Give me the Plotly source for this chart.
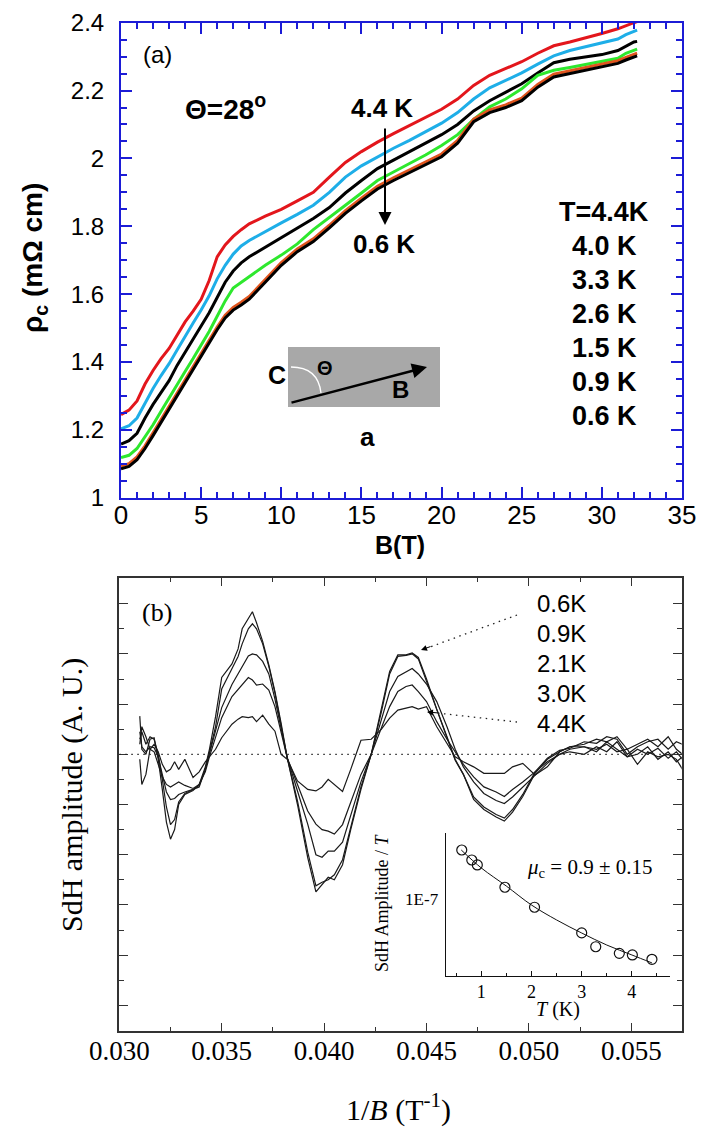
import plotly.graph_objects as go

W, H = 701, 1130
def px(x): return x / W
def py(y): return 1 - y / H

# ---------------- Panel (a) data ----------------
B_field = [0, 0.5, 1, 1.5, 2, 2.5, 3, 3.5, 4, 4.5, 5, 5.5, 6, 6.5, 7, 7.5, 8, 9, 10, 11, 12, 13, 14, 15,
           16, 17, 18, 19, 20, 21, 22, 23, 24, 25, 26, 27, 28, 29, 30, 31, 31.5, 32, 32.2]
rho_44 = [1.245, 1.258, 1.285, 1.335, 1.375, 1.41, 1.44, 1.48, 1.518, 1.55,
          1.585, 1.64, 1.71, 1.745, 1.77, 1.79, 1.807,
          1.83, 1.85, 1.875, 1.90, 1.945, 1.988, 2.02, 2.048, 2.073, 2.097, 2.12, 2.145,
          2.175, 2.215, 2.245, 2.265, 2.285, 2.31, 2.332, 2.343, 2.355, 2.368,
          2.382, 2.392, 2.40, 2.403]
rho_40 = [1.203, 1.212, 1.235, 1.28, 1.322, 1.36, 1.395, 1.435, 1.477, 1.515,
          1.553, 1.595, 1.645, 1.685, 1.718, 1.742, 1.758,
          1.785, 1.81, 1.835, 1.862, 1.90, 1.945, 1.978, 2.005, 2.03, 2.053, 2.078, 2.104,
          2.135, 2.175, 2.208, 2.23, 2.252, 2.278, 2.302, 2.318, 2.33, 2.34,
          2.352, 2.365, 2.375, 2.378]
rho_33 = [1.158, 1.168, 1.19, 1.235, 1.275, 1.31, 1.345, 1.39, 1.428, 1.465,
          1.505, 1.545, 1.59, 1.635, 1.668, 1.692, 1.71,
          1.738, 1.765, 1.793, 1.823, 1.855, 1.898, 1.935, 1.97, 1.995, 2.02, 2.045, 2.07,
          2.10, 2.14, 2.17, 2.195, 2.22, 2.252, 2.282, 2.292, 2.30, 2.306,
          2.318, 2.33, 2.343, 2.345]
rho_26 = [1.118, 1.125, 1.145, 1.18, 1.215, 1.255, 1.295, 1.335, 1.372, 1.41,
          1.448, 1.49, 1.535, 1.58, 1.618, 1.635, 1.65,
          1.685, 1.715, 1.748, 1.79, 1.825, 1.862, 1.898, 1.935, 1.96, 1.985, 2.01, 2.038,
          2.07, 2.115, 2.152, 2.175, 2.205, 2.245, 2.26, 2.268, 2.277, 2.285,
          2.295, 2.31, 2.32, 2.322]
rho_09 = [1.093, 1.10, 1.12, 1.153, 1.191, 1.23, 1.27, 1.31, 1.348, 1.386,
          1.423, 1.463, 1.503, 1.538, 1.561, 1.576, 1.593,
          1.643, 1.693, 1.733, 1.763, 1.803, 1.846, 1.883, 1.918, 1.943, 1.966, 1.988, 2.013,
          2.053, 2.116, 2.143, 2.158, 2.178, 2.218, 2.248, 2.258, 2.266, 2.276,
          2.288, 2.298, 2.308, 2.31]
rho_06 = [1.085, 1.092, 1.112, 1.145, 1.183, 1.222, 1.262, 1.302, 1.34, 1.378,
          1.415, 1.455, 1.495, 1.53, 1.553, 1.568, 1.585,
          1.635, 1.685, 1.725, 1.755, 1.795, 1.838, 1.875, 1.91, 1.935, 1.958, 1.98, 2.005,
          2.045, 2.108, 2.135, 2.15, 2.17, 2.21, 2.24, 2.25, 2.258, 2.268,
          2.28, 2.29, 2.30, 2.302]
curves_a = [(rho_44, "#e3161c"), (rho_40, "#1eaee8"), (rho_33, "#000000"),
            (rho_26, "#2ee82e"), (rho_09, "#e0551e"), (rho_06, "#000000")]
temp_labels_a = ["T=4.4K", "4.0 K", "3.3 K", "2.6 K", "1.5 K", "0.9 K", "0.6 K"]
xticks_a = [0, 5, 10, 15, 20, 25, 30, 35]
yticks_a = [1, 1.2, 1.4, 1.6, 1.8, 2, 2.2, 2.4]

# ---------------- Panel (b) data ----------------
inv_B = [0.0310, 0.0311, 0.0313, 0.0315, 0.0317, 0.0319, 0.0321, 0.0323, 0.0325, 0.0327,
         0.0329, 0.0332, 0.0336, 0.0339, 0.0342, 0.0344, 0.0347, 0.0350, 0.0355, 0.0358,
         0.0360, 0.0363, 0.0365, 0.0367, 0.0370, 0.0373, 0.0376, 0.0379, 0.0382, 0.0387,
         0.0392, 0.0396, 0.0399, 0.0402, 0.0405, 0.0409, 0.0413, 0.0418, 0.0423, 0.0428,
         0.0432, 0.0436, 0.0440, 0.0443, 0.0446, 0.0450, 0.0455, 0.0460, 0.0464, 0.0468,
         0.0473, 0.0478, 0.0484, 0.0488, 0.0492, 0.0497, 0.0503, 0.0509, 0.0515, 0.0520,
         0.0527, 0.0533, 0.0538, 0.0543, 0.0548, 0.0553, 0.0558, 0.0563, 0.0568, 0.0572,
         0.0575]
sdh_06 = [0.76, 0.10, 0.00, 0.30, 0.33, -0.10, -0.70, -1.35, -1.69, -1.50,
          -1.00, -0.80, -0.72, -0.60, -0.25, 0.10, 0.75, 1.53, 1.80, 2.10,
          2.50, 2.72, 2.84, 2.62, 2.25, 1.78, 1.25, 0.62, -0.07, -1.00,
          -2.06, -2.74, -2.60, -2.45, -2.50, -2.20, -1.50, -0.70, 0.00, 0.90,
          1.65, 1.98, 1.98, 2.02, 1.93, 1.50, 0.90, 0.35, -0.10, -0.40,
          -0.90, -1.10, -1.25, -1.33, -1.15, -0.84, -0.38, -0.10, 0.05, 0.15,
          0.20, 0.30, 0.25, 0.35, 0.10, 0.20, 0.30, 0.15, 0.35, 0.10,
          0.00]
sdh_09 = [0.30, 0.45, 0.20, 0.35, 0.30, 0.00, -0.50, -1.05, -1.40, -1.30,
          -0.95, -0.78, -0.70, -0.62, -0.30, 0.05, 0.55, 1.30, 1.70, 1.95,
          2.20, 2.50, 2.60, 2.50, 2.20, 1.75, 1.22, 0.60, -0.07, -0.93,
          -1.95, -2.62, -2.55, -2.50, -2.40, -2.10, -1.45, -0.65, 0.00, 0.85,
          1.60, 1.95, 1.97, 2.00, 1.90, 1.45, 0.85, 0.30, -0.12, -0.40,
          -0.85, -1.05, -1.20, -1.27, -1.10, -0.80, -0.35, -0.08, 0.08, 0.12,
          0.25, 0.22, 0.35, 0.30, 0.00, 0.15, 0.25, 0.30, 0.10, 0.25,
          0.20]
sdh_21 = [0.45, 0.15, 0.05, 0.15, 0.13, -0.05, -0.40, -0.75, -0.90, -0.88,
          -0.80, -0.75, -0.70, -0.65, -0.30, 0.00, 0.45, 0.93, 1.39, 1.60,
          1.75, 1.96, 2.00, 1.98, 1.85, 1.60, 1.10, 0.50, -0.07, -0.73,
          -1.39, -2.00, -2.05, -1.93, -1.93, -1.75, -1.20, -0.55, 0.00, 0.70,
          1.25, 1.55, 1.65, 1.71, 1.60, 1.40, 1.05, 0.55, 0.10, -0.25,
          -0.55, -0.78, -0.92, -0.98, -0.85, -0.65, -0.40, -0.18, 0.00, 0.10,
          0.15, 0.05, 0.25, 0.10, -0.05, 0.10, 0.00, 0.12, -0.08, 0.05,
          -0.10]
sdh_30 = [0.20, 0.55, 0.35, 0.10, 0.05, -0.20, -0.45, -0.60, -0.65, -0.60,
          -0.55, -0.62, -0.68, -0.60, -0.35, -0.05, 0.35, 0.73, 1.15, 1.30,
          1.40, 1.53, 1.48, 1.38, 1.40, 1.28, 0.95, 0.45, -0.07, -0.60,
          -1.13, -1.39, -1.50, -1.53, -1.59, -1.40, -0.95, -0.40, 0.00, 0.55,
          0.95, 1.25, 1.35, 1.38, 1.25, 1.05, 0.65, 0.30, 0.05, -0.20,
          -0.45, -0.65, -0.75, -0.84, -0.70, -0.55, -0.35, -0.15, 0.00, 0.05,
          0.00, 0.15, 0.05, 0.25, -0.05, 0.00, 0.15, -0.10, 0.05, -0.15,
          -0.05]
sdh_44 = [-0.10, -0.60, -0.40, 0.10, 0.20, 0.05, -0.20, -0.35, -0.30, -0.15,
          -0.30, -0.10, -0.46, -0.35, -0.15, -0.05, 0.10, 0.33, 0.60, 0.70,
          0.75, 0.73, 0.75, 0.65, 0.78, 0.60, 0.46, 0.00, -0.10, -0.53,
          -0.70, -0.73, -0.65, -0.50, -0.60, -0.74, -0.30, 0.28, 0.30, 0.50,
          0.72, 0.88, 0.92, 0.95, 0.90, 0.95, 0.55, 0.22, -0.05, -0.15,
          -0.25, -0.38, -0.38, -0.38, -0.25, -0.18, -0.41, -0.25, 0.05, 0.15,
          0.15, 0.10, 0.20, 0.05, 0.10, -0.20, 0.05, -0.05, 0.00, -0.10,
          -0.30]
curves_b = [sdh_06, sdh_09, sdh_21, sdh_30, sdh_44]
temp_labels_b = ["0.6K", "0.9K", "2.1K", "3.0K", "4.4K"]
xticks_b = [0.030, 0.035, 0.040, 0.045, 0.050, 0.055]
xticktext_b = ["0.030", "0.035", "0.040", "0.045", "0.050", "0.055"]

# ---------------- Inset data ----------------
T_pts = [0.61, 0.81, 0.92, 1.47, 2.06, 3.00, 3.28, 3.75, 4.01, 4.40]
A_pts = [3.50e-7, 2.71e-7, 2.39e-7, 1.35e-7, 0.81e-7, 0.42e-7, 0.295e-7, 0.249e-7, 0.239e-7, 0.214e-7]
T_fit = [0.6, 1.0, 1.5, 2.0, 2.5, 3.0, 3.5, 4.0, 4.4]
A_fit = [3.5e-7, 2.21e-7, 1.39e-7, 0.857e-7, 0.585e-7, 0.419e-7, 0.308e-7, 0.239e-7, 0.195e-7]

fig = go.Figure()
for ys, col in curves_a:
    fig.add_trace(go.Scatter(x=B_field, y=ys, mode="lines", line=dict(color=col, width=3),
                             xaxis="x", yaxis="y", showlegend=False, hoverinfo="skip"))
for ys in curves_b:
    fig.add_trace(go.Scatter(x=inv_B, y=ys, mode="lines", line=dict(color="#1a1a1a", width=1.2),
                             xaxis="x2", yaxis="y2", showlegend=False, hoverinfo="skip"))
fig.add_trace(go.Scatter(x=T_fit, y=A_fit, mode="lines", line=dict(color="#111", width=1, shape="spline"),
                         xaxis="x3", yaxis="y3", showlegend=False))
fig.add_trace(go.Scatter(x=T_pts, y=A_pts, mode="markers",
                         marker=dict(symbol="circle-open", size=10, color="#111", line=dict(width=1.2)),
                         xaxis="x3", yaxis="y3", showlegend=False))

BLUE = "#1c1cd6"
SANS = "Liberation Sans"
SERIF = "Liberation Serif"
GR = "#333333"

fig.update_layout(
    width=W, height=H, margin=dict(l=0, r=0, t=0, b=0, autoexpand=False),
    paper_bgcolor="white", plot_bgcolor="rgba(0,0,0,0)",
    xaxis=dict(domain=[px(121), px(682)], range=[0, 35], anchor="y", automargin=False,
               tickmode="array", tickvals=xticks_a, ticktext=[str(v) for v in xticks_a],
               ticks="inside", ticklen=11, tickwidth=2, tickcolor=BLUE,
               showline=True, linecolor=BLUE, linewidth=2, mirror="ticks",
               minor=dict(dtick=1, tick0=0, ticks="inside", ticklen=6, tickwidth=1.5, tickcolor=BLUE),
               tickfont=dict(family=SANS, size=26, color="black"), ticklabelstandoff=-7,
               showgrid=False, zeroline=False),
    yaxis=dict(domain=[py(497.7), py(22.7)], range=[1, 2.4], anchor="x", automargin=False,
               tickmode="array", tickvals=yticks_a, ticktext=["1", "1.2", "1.4", "1.6", "1.8", "2", "2.2", "2.4"],
               ticks="inside", ticklen=11, tickwidth=2, tickcolor=BLUE,
               showline=True, linecolor=BLUE, linewidth=2, mirror="ticks",
               minor=dict(dtick=0.05, tick0=1, ticks="inside", ticklen=6, tickwidth=1.5, tickcolor=BLUE),
               tickfont=dict(family=SANS, size=24, color="black"), ticklabelstandoff=10,
               showgrid=False, zeroline=False),
    xaxis2=dict(domain=[px(119.3), px(681.7)], range=[0.030, 0.05746], anchor="y2", automargin=False,
                tickmode="array", tickvals=xticks_b, ticktext=xticktext_b,
                ticks="inside", ticklen=8, tickwidth=1.3, tickcolor=GR,
                showline=True, linecolor=GR, linewidth=1.6, mirror="ticks",
                minor=dict(dtick=0.0025, tick0=0.030, ticks="inside", ticklen=4, tickwidth=1.2, tickcolor=GR),
                tickfont=dict(family=SERIF, size=27, color="black"), ticklabelstandoff=-5,
                showgrid=False, zeroline=False),
    yaxis2=dict(domain=[py(1030.7), py(577.7)], range=[-5.506, 3.518], anchor="x2", automargin=False,
                tickmode="linear", dtick=1, tick0=0, showticklabels=False,
                ticks="inside", ticklen=9, tickwidth=1.3, tickcolor=GR,
                showline=True, linecolor=GR, linewidth=1.6, mirror="ticks",
                minor=dict(dtick=0.5, tick0=0, ticks="inside", ticklen=5, tickwidth=1.2, tickcolor=GR),
                showgrid=False, zeroline=False),
    xaxis3=dict(domain=[px(445.7), px(670)], range=[0.29, 4.76], anchor="y3", automargin=False,
                tickmode="array", tickvals=[1, 2, 3, 4], ticktext=["1", "2", "3", "4"],
                ticks="inside", ticklen=5, tickwidth=1, tickcolor="#111",
                showline=True, linecolor="#111", linewidth=1.3,
                minor=dict(dtick=0.5, tick0=0, ticks="inside", ticklen=3, tickwidth=1, tickcolor="#111"),
                tickfont=dict(family=SERIF, size=18, color="black"), ticklabelstandoff=0,
                showgrid=False, zeroline=False),
    yaxis3=dict(domain=[py(975.7), py(833)], type="log", range=[-7.852, -6.267], anchor="x3", automargin=False,
                tickmode="array", tickvals=[1e-7], ticktext=["1E-7"], ticks="",
                showline=True, linecolor="#111", linewidth=1.3,
                tickfont=dict(family=SERIF, size=17, color="black"), ticklabelstandoff=3,
                showgrid=False, zeroline=False),
)

ann = []
def text(x, y, t, size, family=SANS, xanchor="center", angle=0):
    ann.append(dict(x=px(x), y=py(y), xref="paper", yref="paper", text=t, showarrow=False,
                    xanchor=xanchor, yanchor="middle", textangle=angle,
                    font=dict(family=family, size=size, color="black")))

# panel (a) texts
text(157, 55, "(a)", 24)
text(225, 107, "<b>Θ=28<sup>o</sup></b>", 28)
text(382, 108, "<b>4.4 K</b>", 26)
text(384, 244, "<b>0.6 K</b>", 26)
for i, lab in enumerate(temp_labels_a):
    text(604, 212 + 34 * i, "<b>%s</b>" % lab, 27)
text(277, 375, "<b>C</b>", 25)
text(325, 368, "<b>Θ</b>", 20)
text(400, 389, "<b>B</b>", 24)
text(367, 437, "<b>a</b>", 26)
text(400, 545, "<b>B(T)</b>", 25)
text(35, 258, "<b>ρ<sub>c</sub> (mΩ cm)</b>", 28, angle=-90)
# arrows panel (a)
ann.append(dict(x=px(385), y=py(225), xref="paper", yref="paper", ax=0, ay=-98, showarrow=True,
                arrowhead=2, arrowsize=1.3, arrowwidth=2, arrowcolor="black", text=""))
ann.append(dict(x=px(427), y=py(367), xref="paper", yref="paper", ax=-137, ay=36, showarrow=True,
                arrowhead=2, arrowsize=1.2, arrowwidth=2.5, arrowcolor="black", text=""))

# panel (b) texts
text(157, 612, "(b)", 26, family=SERIF)
for i, lab in enumerate(temp_labels_b):
    text(535, 603 + 30 * i, lab, 24, xanchor="left")
text(72, 795, "SdH amplitude (A. U.)", 30, family=SERIF, angle=-90)
text(398, 1107, "1/<i>B</i> (T<sup>-1</sup>)", 30, family=SERIF)
text(382, 902, "SdH Amplitude / <i>T</i>", 18, family=SERIF, angle=-90)
text(558, 1010, "<i>T</i> (K)", 20, family=SERIF)
text(525, 868, "<i>μ</i><sub>c</sub> = 0.9 ± 0.15", 21, family=SERIF, xanchor="left")
ann.append(dict(x=px(421), y=py(650), xref="paper", yref="paper", ax=11, ay=-4, showarrow=True,
                arrowhead=2, arrowsize=1.2, arrowwidth=1, arrowcolor="black", text=""))
ann.append(dict(x=px(427), y=py(712), xref="paper", yref="paper", ax=12, ay=1, showarrow=True,
                arrowhead=2, arrowsize=1.2, arrowwidth=1, arrowcolor="black", text=""))
fig.update_layout(annotations=ann)

shapes = []
# inset diagram of panel (a)
shapes.append(dict(type="rect", xref="paper", yref="paper", x0=px(288), x1=px(440), y0=py(407), y1=py(347),
                   fillcolor="#a8a8a8", line=dict(width=0), layer="below"))
shapes.append(dict(type="path", xref="paper", yref="paper",
                   path="M %f,%f Q %f,%f %f,%f" % (px(291), py(367), px(318), py(367), px(321), py(393)),
                   line=dict(color="white", width=1.3)))
# dotted zero line in (b)
DOT = "1.5px,4.5px"
shapes.append(dict(type="line", xref="x2", yref="y2", x0=0.030, x1=0.05746, y0=0, y1=0,
                   line=dict(color="#222", width=1.3, dash=DOT)))
shapes.append(dict(type="line", xref="paper", yref="paper", x0=px(517), y0=py(615), x1=px(430), y1=py(647),
                   line=dict(color="#222", width=1.3, dash=DOT)))
shapes.append(dict(type="line", xref="paper", yref="paper", x0=px(517), y0=py(722), x1=px(437), y1=py(713),
                   line=dict(color="#222", width=1.3, dash=DOT)))
fig.update_layout(shapes=shapes)

fig.write_html("out.html")
